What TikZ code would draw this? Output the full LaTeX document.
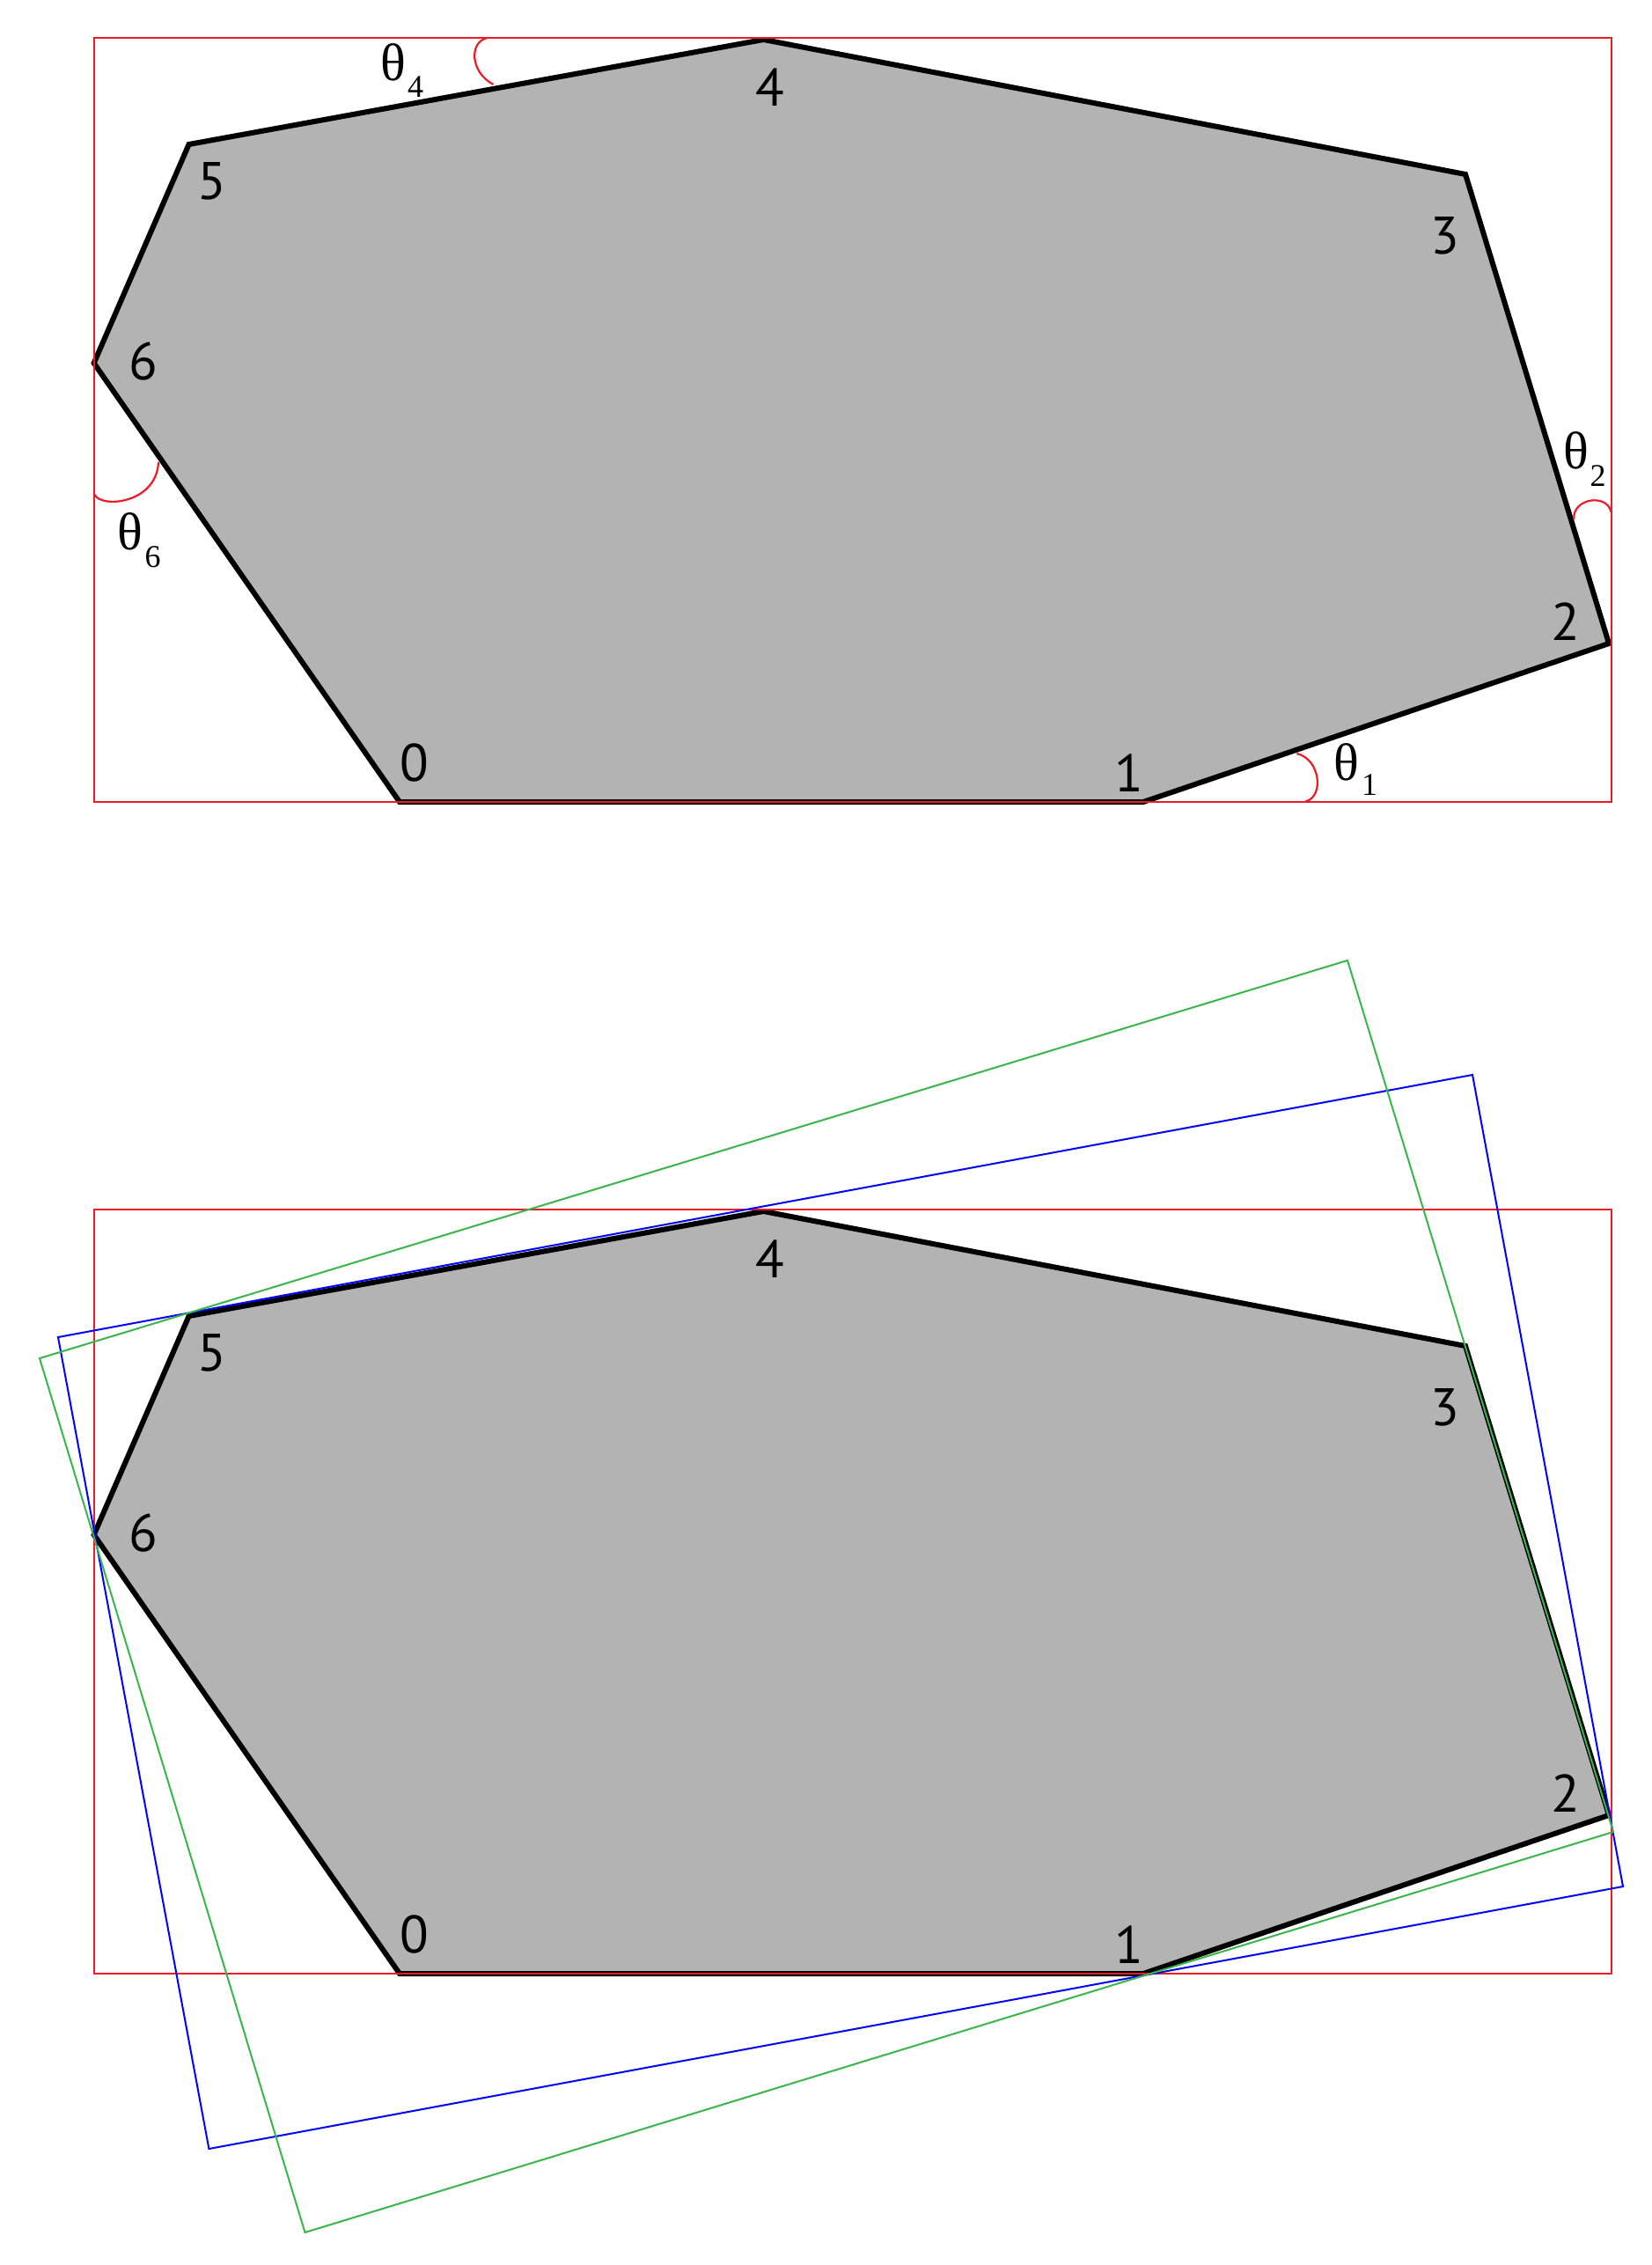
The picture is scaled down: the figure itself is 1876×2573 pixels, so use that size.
\documentclass[tikz,border=0pt]{standalone}
\usepackage{fontspec}
\setmainfont{PT Sans}
\newfontfamily\thetafont{Liberation Serif}
\definecolor{boxred}{RGB}{237,28,36}
\definecolor{boxgreen}{RGB}{57,181,74}
\definecolor{boxblue}{RGB}{0,0,255}
\definecolor{polygray}{RGB}{179,179,179}
\begin{document}
\begin{tikzpicture}[x=0.5pt,y=-0.5pt,
  poly/.style={fill=polygray, draw=black, line width=3pt, line join=miter},
  redbox/.style={draw=boxred, line width=1pt},
  bluebox/.style={draw=boxblue, line width=1pt},
  greenbox/.style={draw=boxgreen, line width=1pt},
  arcmark/.style={draw=boxred, line width=1.1pt},
  lbl/.style={inner sep=0pt, font=\fontsize{30}{36}\selectfont},
  thl/.style={inner sep=0pt, font=\thetafont\fontsize{30}{36}\selectfont},
  subl/.style={inner sep=0pt, font=\thetafont\fontsize{18}{22}\selectfont}]
\useasboundingbox (0,0) rectangle (1876,2573);

% ---------- top panel ----------
\coordinate (a0) at (454,911);
\coordinate (a1) at (1299,911);
\coordinate (a2) at (1828,731);
\coordinate (a3) at (1665,198);
\coordinate (a4) at (867.5,45);
\coordinate (a5) at (214.6,164);
\coordinate (a6) at (106.7,412.5);
\coordinate (rA) at (107,43.3);
\coordinate (rB) at (1830.5,910.5);
\draw[poly] (a0) -- (a1) -- (a2) -- (a3) -- (a4) -- (a5) -- (a6) -- cycle;
\draw[redbox] (rA) rectangle (rB);

% angle marks
\coordinate (t4s) at (553,43.3);
\coordinate (t4e) at (560.5,96);
\draw[arcmark] (t4s) .. controls (533,48) and (534,82) .. (t4e);
\coordinate (t6s) at (107.3,561.7);
\coordinate (t6e) at (180,525);
\draw[arcmark] (t6s) .. controls (115,578) and (178,572) .. (t6e);
\coordinate (t2s) at (1788.3,590);
\coordinate (t2e) at (1830.5,581.7);
\draw[arcmark] (t2s) .. controls (1786,566) and (1826,560) .. (t2e);
\coordinate (t1s) at (1473.3,856);
\coordinate (t1e) at (1483.3,910.5);
\draw[arcmark] (t1s) .. controls (1500,862) and (1505,905) .. (t1e);

\node[thl] (th4) at (446.6,71) {θ};
\node[subl] (th4s) at (472,99) {4};
\node[thl] (th6) at (148,604) {θ};
\node[subl] (th6s) at (173.5,632.5) {6};
\node[thl] (th2) at (1790.5,512) {θ};
\node[subl] (th2s) at (1815.7,541) {2};
\node[thl] (th1) at (1530,865.5) {θ};
\node[subl] (th1s) at (1556,892) {1};

\node[lbl] (la0) at (471.2,866.9) {0};
\node[lbl] (la1) at (1283,878.3) {1};
\node[lbl] (la2) at (1779.2,706.5) {2};
\node[lbl] (la3) at (1642,268) {3};
\node[lbl] (la4) at (874.4,99) {4};
\node[lbl] (la5) at (241.3,206) {5};
\node[lbl] (la6) at (162.5,410.7) {6};

% ---------- bottom panel ----------
\begin{scope}[shift={(0,1331)}]
\coordinate (b0) at (454,911);
\coordinate (b1) at (1299,911);
\coordinate (b2) at (1828,731);
\coordinate (b3) at (1665,198);
\coordinate (b4) at (867.5,45);
\coordinate (b5) at (214.6,164);
\coordinate (b6) at (106.7,412.5);
\coordinate (sA) at (107,43.3);
\coordinate (sB) at (1830.5,910.5);
\draw[poly] (b0) -- (b1) -- (b2) -- (b3) -- (b4) -- (b5) -- (b6) -- cycle;
\draw[redbox] (sA) rectangle (sB);
\node[lbl] (lb0) at (471.2,866.9) {0};
\node[lbl] (lb1) at (1283,878.3) {1};
\node[lbl] (lb2) at (1779.2,706.5) {2};
\node[lbl] (lb3) at (1642,268) {3};
\node[lbl] (lb4) at (874.4,99) {4};
\node[lbl] (lb5) at (241.3,206) {5};
\node[lbl] (lb6) at (162.5,410.7) {6};
\end{scope}

\coordinate (B1) at (66,1519);
\coordinate (B2) at (1673,1221);
\coordinate (B3) at (1844,2143);
\coordinate (B4) at (237.4,2441);
\draw[bluebox] (B1) -- (B2) -- (B3) -- (B4) -- cycle;

\coordinate (G1) at (45,1543);
\coordinate (G2) at (1531,1091);
\coordinate (G3) at (1833,2081);
\coordinate (G4) at (346.5,2536);
\draw[greenbox] (G1) -- (G2) -- (G3) -- (G4) -- cycle;
\end{tikzpicture}
\end{document}
